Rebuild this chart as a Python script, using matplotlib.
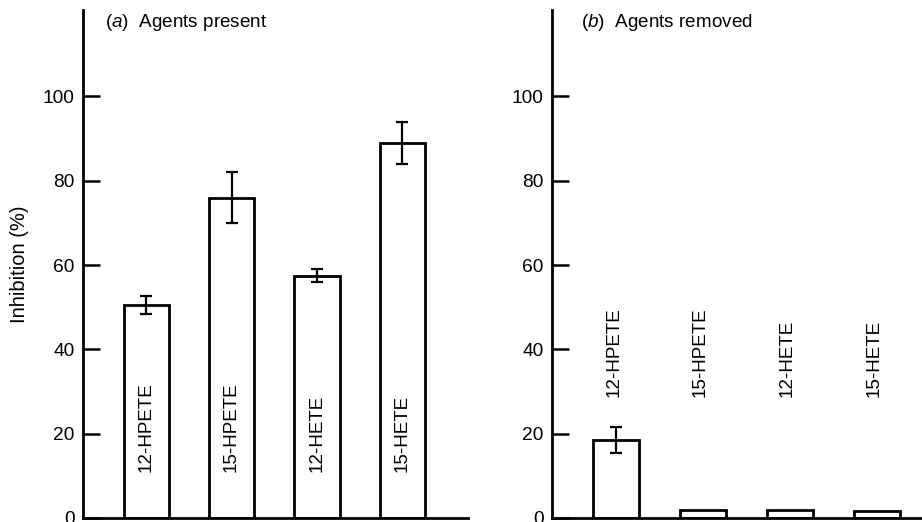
import matplotlib
matplotlib.use("Agg")
import matplotlib.pyplot as plt

# =============================================================================
# Data
# =============================================================================
agents = ["12-HPETE", "15-HPETE", "12-HETE", "15-HETE"]
present_vals = [50.5, 76, 57.5, 89]
present_err = [2.1, 6, 1.5, 5]
removed_vals = [18.5, 2.0, 1.8, 1.6]
removed_err = [3, 0, 0, 0]
yticks = [0, 20, 40, 60, 80, 100]

plt.rcParams["font.family"] = ["Liberation Sans", "DejaVu Sans"]
plt.rcParams["mathtext.fontset"] = "custom"
plt.rcParams["mathtext.rm"] = "Liberation Sans"
plt.rcParams["mathtext.it"] = "Liberation Sans:italic"

fig = plt.figure(figsize=(9.22, 5.22), dpi=100)
ax_a = fig.add_axes([0.0900, 0.0077, 0.4176, 0.9732])
ax_b = fig.add_axes([0.5987, 0.0077, 0.4100, 0.9732])

pos = [1, 2, 3, 4]


def style_axis(ax, xlim):
    ax.set_xlim(*xlim)
    ax.set_ylim(0, 120.5)
    for s in ("top", "right"):
        ax.spines[s].set_visible(False)
    for s in ("left", "bottom"):
        ax.spines[s].set_linewidth(2.0)
    ax.set_yticks(yticks)
    ax.set_xticks([])
    ax.tick_params(axis="y", direction="in", length=12.5, width=1.8,
                   labelsize=13.8, pad=6)


# (a) agents present
ax_a.bar(pos, present_vals, width=0.53, facecolor="white",
         edgecolor="black", linewidth=2.0, zorder=2)
ax_a.errorbar(pos, present_vals, yerr=present_err, fmt="none",
              ecolor="black", elinewidth=1.6, capsize=4, capthick=1.6, zorder=3)
for x, name in zip(pos, agents):
    ax_a.text(x, 10.8, name, rotation=90, ha="center", va="bottom",
              fontsize=13.6, zorder=4)
style_axis(ax_a, (0.26, 4.77))
ax_a.set_ylabel("Inhibition (%)", fontsize=14.5, labelpad=10)
ax_a.text(0.52, 117.6, r"($\it{a}$)  Agents present", fontsize=13.6,
          ha="left", va="center")

# (b) agents removed
ax_b.bar(pos, removed_vals, width=0.53, facecolor="white",
         edgecolor="black", linewidth=2.0, zorder=2)
ax_b.errorbar(pos[:1], removed_vals[:1], yerr=removed_err[:1], fmt="none",
              ecolor="black", elinewidth=1.6, capsize=4, capthick=1.6, zorder=3)
for x, name in zip(pos, agents):
    ax_b.text(x - 0.03, 28.6, name, rotation=90, ha="center", va="bottom",
              fontsize=13.6, zorder=4)
style_axis(ax_b, (0.26, 4.61))
ax_b.text(0.59, 117.6, r"($\it{b}$)  Agents removed", fontsize=13.6,
          ha="left", va="center")

fig.savefig("out.png", dpi=100)
